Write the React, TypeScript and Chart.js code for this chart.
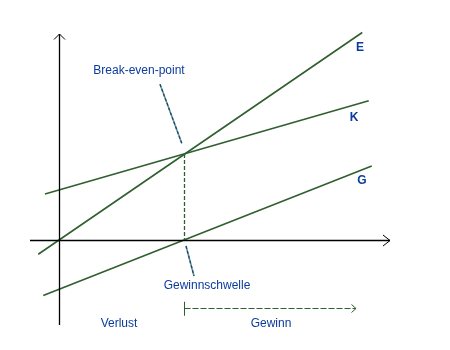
import React, { useEffect, useRef } from "react";
import { Chart, registerables } from "chart.js";

Chart.register(...registerables);

// Lines (x: Menge, y: Betrag) – endpoints
const eX = [-0.83, 12.13];
const eY = [-0.57, 8.3];
const kX = [-0.56, 12.39];
const kY = [1.84, 5.57];
const gX = [-0.63, 12.51];
const gY = [-2.22, 2.96];

const lineNames = ["E", "K", "G"];
const breakEvenX = 5;
const breakEvenY = 3.44;

// axis extents
const xAxisRange = [-1.16, 13.24];
const yAxisRange = [-3.4, 8.24];

const labelTexts = ["Break-even-point", "Gewinnschwelle", "Verlust", "Gewinn"];

function App() {
  const ref = useRef<HTMLCanvasElement | null>(null);

  useEffect(() => {
    const canvas = ref.current;
    if (!canvas) return;
    const lineColor = "#2f5f2f";
    const textColor = "#0b3b9b";
    const mk = (xs: number[], ys: number[]) => xs.map((x, i) => ({ x, y: ys[i] }));

    const overlay = {
      id: "overlay",
      afterDatasetsDraw(chart: any) {
        const ctx = chart.ctx as CanvasRenderingContext2D;
        const sx = chart.scales.x;
        const sy = chart.scales.y;
        const px = (v: number) => sx.getPixelForValue(v);
        const py = (v: number) => sy.getPixelForValue(v);
        ctx.save();
        // axes
        ctx.strokeStyle = "#000";
        ctx.lineWidth = 1.3;
        ctx.setLineDash([]);
        ctx.beginPath();
        const x0 = Math.round(px(0)) + 0.5;
        const y0 = Math.round(py(0)) + 0.5;
        ctx.moveTo(px(xAxisRange[0]), y0);
        ctx.lineTo(px(xAxisRange[1]), y0);
        ctx.moveTo(x0, py(yAxisRange[0]));
        ctx.lineTo(x0, py(yAxisRange[1]));
        ctx.stroke();
        ctx.lineWidth = 1;
        ctx.beginPath();
        const xt = px(xAxisRange[1]);
        ctx.moveTo(xt - 7, y0 - 5.5);
        ctx.lineTo(xt, y0);
        ctx.lineTo(xt - 7, y0 + 5.5);
        const yt = py(yAxisRange[1]);
        ctx.moveTo(x0 - 5.5, yt + 5.5);
        ctx.lineTo(x0, yt);
        ctx.lineTo(x0 + 5.5, yt + 5.5);
        ctx.stroke();

        // dashed vertical at break-even
        const bx = Math.round(px(breakEvenX)) + 0.5;
        ctx.strokeStyle = lineColor;
        ctx.lineWidth = 1.3;
        ctx.setLineDash([4, 2]);
        ctx.beginPath();
        ctx.moveTo(bx, py(breakEvenY));
        ctx.lineTo(bx, py(0));
        ctx.stroke();

        // leaders
        const leader = (ax: number, ay: number, bx2: number, by2: number) => {
          ctx.setLineDash([]);
          ctx.strokeStyle = "#6f9a6f";
          ctx.lineWidth = 1.6;
          ctx.beginPath();
          ctx.moveTo(px(ax), py(ay));
          ctx.lineTo(px(bx2), py(by2));
          ctx.stroke();
          ctx.setLineDash([3, 2]);
          ctx.strokeStyle = "#1040a0";
          ctx.lineWidth = 1.2;
          ctx.beginPath();
          ctx.moveTo(px(ax), py(ay));
          ctx.lineTo(px(bx2), py(by2));
          ctx.stroke();
        };
        leader(4.04, 6.23, 4.91, 3.87);
        leader(5.08, -0.24, 5.4, -1.44);

        // bottom profit arrow
        const ay = Math.round(py(-2.73)) + 0.5;
        ctx.setLineDash([]);
        ctx.strokeStyle = lineColor;
        ctx.lineWidth = 1;
        ctx.beginPath();
        ctx.moveTo(bx, py(-2.47));
        ctx.lineTo(bx, py(-3.03));
        ctx.stroke();
        ctx.setLineDash([6, 2]);
        ctx.lineWidth = 1.2;
        ctx.beginPath();
        ctx.moveTo(bx, ay);
        const ae = px(11.88);
        ctx.lineTo(ae, ay);
        ctx.stroke();
        ctx.setLineDash([]);
        ctx.lineWidth = 1;
        ctx.beginPath();
        ctx.moveTo(ae - 4.5, ay - 4);
        ctx.lineTo(ae, ay);
        ctx.lineTo(ae - 4.5, ay + 4);
        ctx.stroke();

        // texts
        ctx.fillStyle = textColor;
        ctx.textAlign = "center";
        ctx.textBaseline = "middle";
        ctx.font = "12px 'Liberation Sans', Arial, sans-serif";
        ctx.fillText(labelTexts[0], px(3.2), py(6.76));
        ctx.fillText(labelTexts[1], px(5.92), py(-1.84));
        ctx.fillText(labelTexts[2], px(2.4), py(-3.36));
        ctx.fillText(labelTexts[3], px(8.48), py(-3.36));
        ctx.font = "bold 12px 'Liberation Sans', Arial, sans-serif";
        ctx.fillText(lineNames[0], px(12.04), py(7.68));
        ctx.fillText(lineNames[1], px(11.8), py(4.88));
        ctx.fillText(lineNames[2], px(12.12), py(2.36));
        ctx.restore();
      },
    };

    const ds = (label: string, xs: number[], ys: number[]) => ({
      label,
      data: mk(xs, ys),
      showLine: true,
      borderColor: lineColor,
      borderWidth: 1.6,
      pointRadius: 0,
      fill: false,
    });

    const chart = new Chart(canvas, {
      type: "scatter",
      data: {
        datasets: [ds(lineNames[0], eX, eY), ds(lineNames[1], kX, kY), ds(lineNames[2], gX, gY)],
      },
      options: {
        animation: false,
        responsive: false,
        devicePixelRatio: 1,
        layout: { padding: 0 },
        plugins: { legend: { display: false }, tooltip: { enabled: false } },
        events: [],
        scales: {
          x: { type: "linear", min: -2.36, max: 15.64, display: false },
          y: { type: "linear", min: -4.4, max: 9.6, display: false },
        },
      },
      plugins: [overlay],
    } as any);
    return () => chart.destroy();
  }, []);

  return (
    <div style={{ position: "absolute", left: 0, top: 0, width: 450, height: 350, background: "#fff" }}>
      <canvas ref={ref} width={450} height={350} style={{ display: "block" }} />
    </div>
  );
}

export default App;
